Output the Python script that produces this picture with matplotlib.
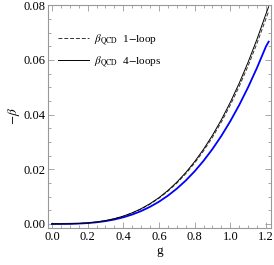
import matplotlib
matplotlib.use("Agg")
from matplotlib import pyplot as plt
from matplotlib.ticker import MultipleLocator

# values
g = [0.0, 0.05, 0.1, 0.15, 0.2, 0.25, 0.3, 0.35, 0.4, 0.45, 0.5, 0.55, 0.6,
     0.65, 0.7, 0.75, 0.8, 0.85, 0.9, 0.95, 1.0, 1.05, 1.1, 1.15, 1.2, 1.215]
beta_4loop = [0, 0.0000056, 0.0000445, 0.00015, 0.000356, 0.000695, 0.0012,
              0.00191, 0.00285, 0.00406, 0.00556, 0.0074, 0.00961, 0.01222,
              0.01526, 0.01877, 0.02278, 0.02733, 0.03244, 0.03815, 0.0445,
              0.05151, 0.05923, 0.06768, 0.0769, 0.0795]
beta_1loop = [0, 0.0000054, 0.0000435, 0.000147, 0.000348, 0.00068, 0.00117,
              0.00187, 0.00278, 0.00396, 0.00544, 0.00724, 0.0094, 0.01195,
              0.01492, 0.01835, 0.02227, 0.02672, 0.03171, 0.0373, 0.0435,
              0.05036, 0.0579, 0.06616, 0.07517, 0.0778]
beta_blue = [0, 0.0000047, 0.0000376, 0.000127, 0.0003, 0.000588, 0.00102,
             0.00161, 0.00241, 0.00343, 0.0047, 0.00626, 0.00812, 0.01033,
             0.0129, 0.01586, 0.01925, 0.0231, 0.02741, 0.03224, 0.0376,
             0.04353, 0.05005, 0.0572, 0.06497, 0.0667]

plt.rcParams['font.family'] = ['Liberation Serif', 'DejaVu Serif']
plt.rcParams['mathtext.fontset'] = 'stix'

fig = plt.figure(figsize=(2.74, 2.65), dpi=100)
ax = fig.add_axes([0.175, 0.14, 0.814, 0.841])

ax.plot(g, beta_blue, color=(0, 0, 1), lw=1.3)
ax.plot(g, beta_1loop, color='#333333', lw=0.7, ls=(0, (4, 2)),
        label=r'$\beta_{\mathrm{QCD}}$  1$-$loop')
ax.plot(g, beta_4loop, color='black', lw=0.7,
        label=r'$\beta_{\mathrm{QCD}}$  4$-$loops')

ax.set_xlim(-0.0224, 1.228)
ax.set_ylim(-0.00146, 0.0801)
ax.xaxis.set_major_locator(MultipleLocator(0.2))
ax.xaxis.set_minor_locator(MultipleLocator(0.05))
ax.yaxis.set_major_locator(MultipleLocator(0.02))
ax.yaxis.set_minor_locator(MultipleLocator(0.005))
ax.xaxis.set_major_formatter(plt.FuncFormatter(lambda v, p: f'{v:.1f}'))
ax.yaxis.set_major_formatter(plt.FuncFormatter(lambda v, p: f'{v:.2f}'))

for s in ax.spines.values():
    s.set_color('#999999')
    s.set_linewidth(0.8)
ax.tick_params(which='both', direction='in', top=True, right=True,
               color='#999999', width=0.6, labelsize=9, pad=2)
ax.tick_params(which='major', length=4)
ax.tick_params(which='minor', length=2)

ax.set_xlabel('g', fontsize=9.5, labelpad=2)
ax.set_ylabel(r'$-\beta$', fontsize=9.5, labelpad=1)

ax.legend(loc='upper left', bbox_to_anchor=(0.0, 0.92), frameon=False,
          fontsize=8, handlelength=2.8, handletextpad=0.4, labelspacing=0.65)

fig.savefig('out.png', dpi=100)
